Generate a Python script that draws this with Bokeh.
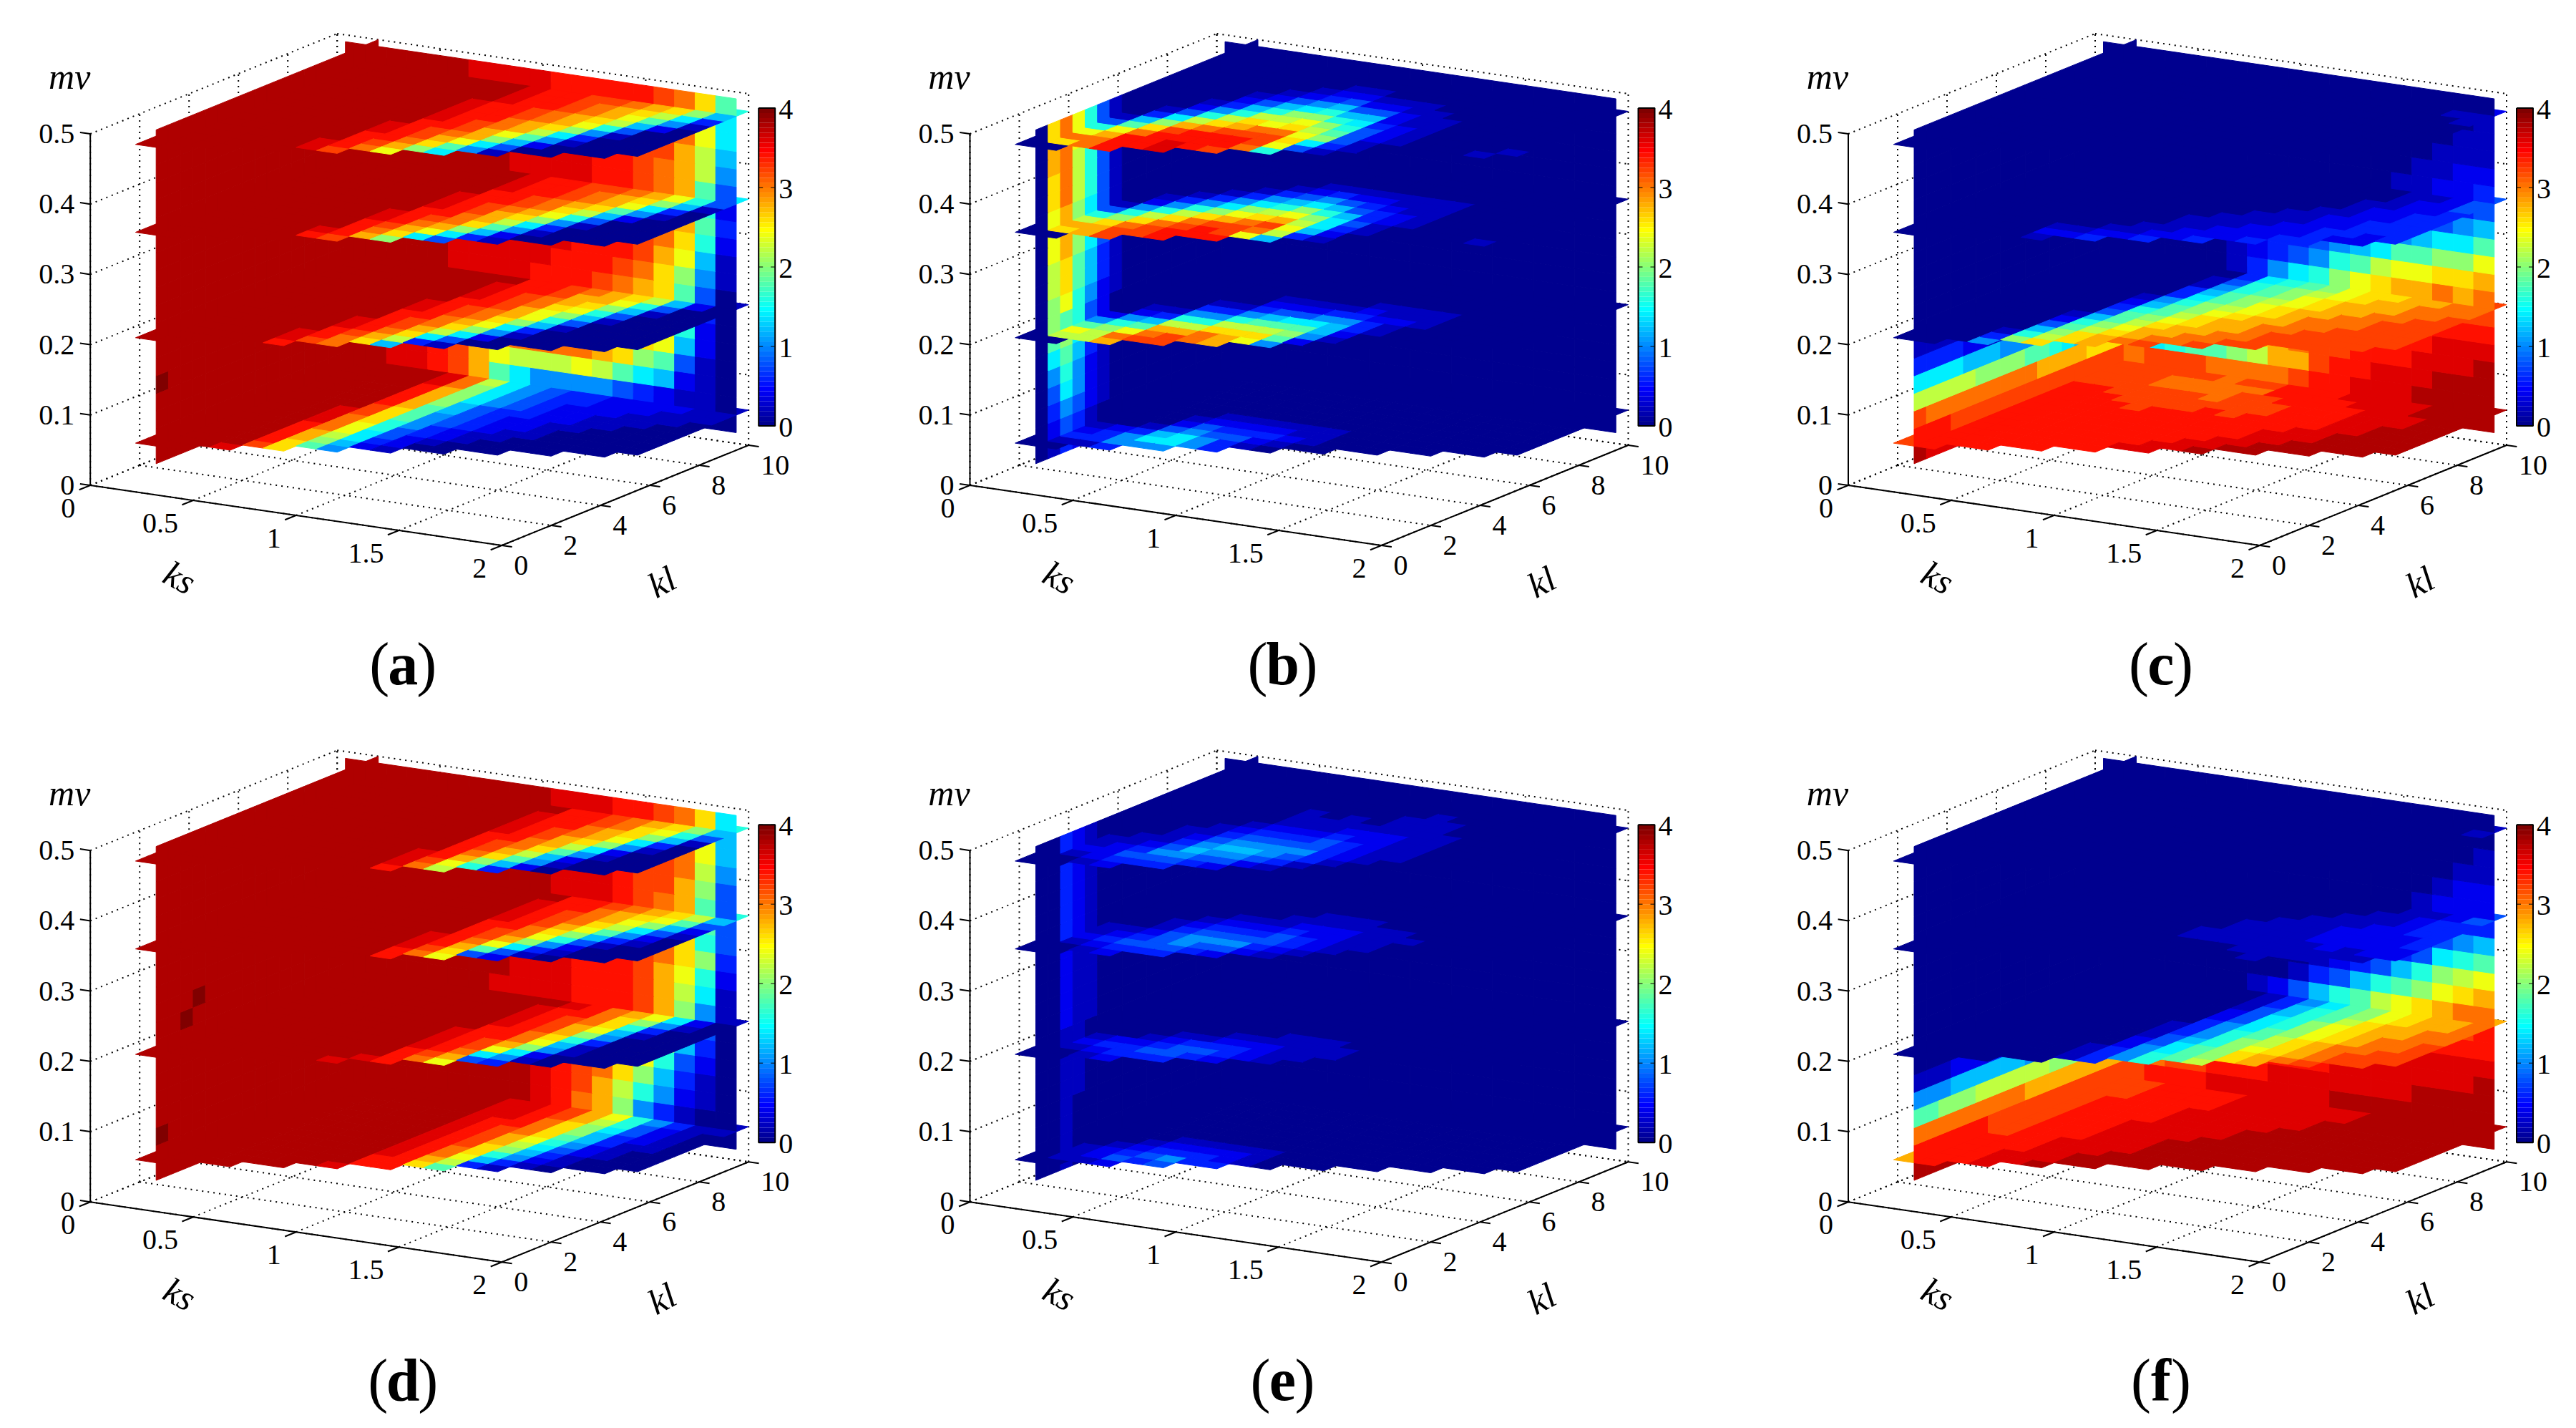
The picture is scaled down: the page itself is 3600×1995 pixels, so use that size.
from bokeh.plotting import figure
from bokeh.models import Range1d
from bokeh.core.properties import value
from bokeh.embed import file_html
from bokeh.resources import INLINE

# Axis ticks and labels
KS_TICKS = [0, 0.5, 1, 1.5, 2]
KS_LABELS = ["0", "0.5", "1", "1.5", "2"]
KL_TICKS = [0, 2, 4, 6, 8, 10]
KL_LABELS = ["0", "2", "4", "6", "8", "10"]
MV_TICKS = [0, 0.1, 0.2, 0.3, 0.4, 0.5]
MV_LABELS = ["0", "0.1", "0.2", "0.3", "0.4", "0.5"]
CB_TICKS = [0, 1, 2, 3, 4]

# Slice grid of the volume
KS_EDGES = [0.1 + 0.1 * n for n in range(20)]
KL_EDGES = [1 + 0.5 * n for n in range(19)]
MV_EDGES = [0.025 + 0.025 * n for n in range(20)]
LEFT_KS = 0.2
BACK_KL = 9.5
SLICE_MV = [0.05, 0.2, 0.35, 0.475]

# Cell values: one character per cell, value = digit(base 36) * 0.2; "." = no data.
# Slices: one row per ks cell, characters along kl. Walls: first row is the top mv row.
DARK = "jjjjjjjjjjjjjjjjjj"

A_SLICE_475 = [DARK, DARK, ".jjjjjjjjjjjjjjjjj", ".jjjjjjjjjjjjjjjjj", "..jjjjjjjjjjjjjjjj", "..jjjjjjjjjjjjjjjj",
    "...iijjjjjjjjjjjjj", "...ghhhiijjjjjjjjj", "....fghhhhiiiijjjj", "....cefgghhhhhiiii", ".....adefgghhhhhhh",
    ".....79ceeffgghhhh", "......57aceeffgggh", "......1469bdeeffgg", ".......0257acdeeff", ".......001358bcdee",
    "........0001469bde", "........00000257ac", ".........000001368"]
A_SLICE_35 = [DARK, DARK, ".jjjjjjjjjjjjjjjjj", ".jjjjjjjjjjjjjjjjj", "..jjjjjjjjjjjjjjjj", "..jjjjjjjjjjjjjjjj",
    "...hijjjjjjjjjjjjj", "...ghhhiijjjjjjjjj", "....efghhhiiijjjjj", "....adefghhhhhiiij", ".....7ceffgghhhhhi",
    ".....47adeefgghhhh", "......369bdeffgggh", "......1257acdeffgg", ".......01358bdeeff", ".......0001469cdee",
    "........0000257acd", "........000001368b", ".........000000147"]
A_SLICE_20 = [DARK, DARK, ".jjjjjjjjjjjjjjjjj", ".jjjjjjjjjjjjjjjjj", "..jjjjjjjjjjjjjjjj", "..hiijjjjjjjjjjjjj",
    "...ghhiijjjjjjjjjj", "...ffghhhhiijjjjjj", "....defgghhhhiiijj", "....6bdeffgghhhhhi", ".....37bdeffggghhh",
    ".....147acdeeffggg", "......0257accdeeff", "......001368acdeef", ".......0001468acde", ".......000001468bc",
    "........0000001469", "........0000000025", ".........000000001"]
A_SLICE_05 = [DARK, DARK, ".jjjjjjjjjjjjjjjjj", ".ijjjjjjjjjjjjjjjj", "..ghhhhiiijjjjjjjj", "..ddeefffgghhhhiii",
    "...9abccdddeeeefff", "...567788999aaaabb", "....23445556677777", "....12233444455555", ".....0122333344444",
    ".....0011222333333", "......001122222333", "......000111222222", ".......00001112222", ".......00000111222",
    "........0000011122", "........0000001111", ".........000000111"]
A_LEFT = [DARK, DARK, DARK, DARK, DARK, DARK, DARK, DARK, DARK, DARK, DARK, DARK, DARK, DARK,
    "kjjjjjjjjjjjjjjjjj", DARK, DARK, DARK, DARK]
A_BACK = ["jjjjjjiiiihhhhhgfd9", "jjjjjjjiiiiihhhgfc7", "jjjjjjjiiiiihhhgfc7", "jjjjjjjjiiiihhggeb6", "jjjjjjjjiiiihhgfeb5",
    "jjjjjjjjiiiihhgfe94", "jjjjjjjjiiiihhgfe82", "jjjjjjjjiiiihhgfe93", "jjjjjjjiiiiihhgfd82", "jjjjjjiiiiihhhgec61",
    "jjjjjiiiiihhhgfda51", "jjjjjiiiihhhgfed940", "jjjjiiiihhhhfeec830", "jjjjiiihhhhgfedc820", "jjjiiihhhhggfedc620",
    "jjiihgfeffffeda9410", "jjiihgecbbbcb976210", "jjiihge975555432110", "jjiihge754433211000"]

B_SLICE_475 = ["00112221", "0dfc841", ".ffec9631", ".hhhfda7421", "..hhhgeb85321", "..iihhfdb86421", "...hhhgedb86421",
    "...ghhgfcba75321", "....fggfdca86421", "....8cdcba86421", ".....47a9876421", ".....1344432211", "......11222111",
    "......0011111", ".......", ".......", "........", "........1", ".........1"]
B_SLICE_35 = ["00011111", "0deb841", ".eeda8521", ".ggfdb8531", "..ggfdb8531", "..hhgfda7531", "...hhgeca7531",
    "...hggfdb86421", "....cfgeca75310", "....6bcba86421", ".....367764321", ".....123433211", "......01122111",
    "......00011111", ".......", ".......", "........", "........1", "........."]
B_SLICE_20 = ["000111", "0bc952", ".bba8521", ".efc9631", "..gfeb8531", "..ggeb8531", "...ffdb85321", "...eedb96421",
    "....cdb97421", "....59a97531", ".....25665321", ".....01233211", "......0011211", "......0000111", ".......",
    ".......", "........", "........", "........."]
B_SLICE_05 = ["", "01321", ".1332", ".35531", "..576421", "..5775421", "...554321", "...334321", "....12321",
    "....01211", ".....0111", ".....", "......", "......", ".......", ".......", "........", "........", "........."]
B_LEFT = ["0dfc841", "0efc841", "0efb841", "0dfb841", "0dfb841", "0cea741", "0cea741", "0cea741", "0bd9631", "0bd9631",
    "0ac8521", "0a98420", "09a7421", "079631", "058521", "047521", "035421", "02431", "01321"]
B_BACK = ["", "", "", "", "", "", "", "", "", "", "", "", "", "", "", "", "", "", ""]

C_SLICE_475 = ["", "", ".", ".", "..", "..", "...", "...", "....", "....", ".....", ".....", "......", "......",
    ".......", ".......", "........0000000001", "........0000000011", ".........000000112"]
C_SLICE_35 = ["", "", ".", ".", "..", "..12100", "...2100", "...32100", "....21100", "....3211100", ".....2211100",
    ".....3221110", "......22211100", "......32221110", ".......3222211100", ".......33322221110", "........2333222211",
    "........2233332222", ".........333333444"]
C_SLICE_20 = ["", "", ".", ".531", "..a86421", "..dba9864321", "...ddba998653311", "...eedcba998765432",
    "....feedcbaa998875", "....gfeeddcbaa9988", ".....ffeeedccbaa99", ".....gffeeeddccbaa", "......gfffeeeddccb",
    "......gggfffeeeddc", ".......gggfffeeedd", ".......ggggfffeeee", "........gggggfffee", "........ggggggfffe",
    ".........ggggggffg"]
C_SLICE_05 = ["ggghhhhhhhhhhhhggg", "hhhhhhhhhhhhhggggg", ".hhhhhhhhhhhhggggg", ".hhhhhhhhhhhgggggg", "..hhhhhhhhhgggffgg",
    "..hhhhhhhhggggffgg", "...hhhhhhhhgggfffg", "...hhhhhhhhggfffgh", "....ihhhhhhhgggfgh", "....iihhhhhgggghhh",
    ".....iihhhhhgghhhh", ".....jiihhhhhhhhhh", "......jiiihhhhhhii", "......jjiiihhhhiii", ".......jjiiiiiiiii",
    ".......jjjjiiiiiij", "........jjjjjiijjj", "........jjjjjjjjjj", ".........jjjjjjjjj"]
C_LEFT = ["", "", "", "", "", "", "", "", "", "", "", "", "1111", "3333221111", "777766655544332211", "bbbbbaaaa998765555",
    "gfffffffffeeeedddd", "hhhggggggggggggggg", "jiiiiiiiihhhhhhggg"]
C_BACK = ["", "0000000000000000001", "0000000000000000011", "0000000000000000111", "0000000000000001122",
    "0000000000000011223", "0000000000000112234", "0000000000000123456", "0000000011123456779", "0000001233456799aac",
    "0000001234589bccdde", "00000013578acdeefef", "0000135789acdefffgg", "00135789abcdefgghhh", "0135789acdefgghhiii",
    "13579abdefgghhhiiij", "567899abeeghhiiijjj", "ffgggffffghhiiijjjj", "gggggggggghhiiijjjj"]

D_SLICE_475 = [DARK, DARK, ".jjjjjjjjjjjjjjjjj", ".jjjjjjjjjjjjjjjjj", "..jjjjjjjjjjjjjjjj", "..jjjjjjjjjjjjjjjj",
    "...jjjjjjjjjjjjjjj", "...jjjjjjjjjjjjjjj", "....jjjjjjjjjjjjjj", "....hiiijjjjjjjjjj", ".....fghhhhhiiiijj",
    ".....bcefgghhhhhhi", "......8adeffgghhhh", "......369bdeeffggh", ".......2569bdeeffg", ".......01257acddef",
    "........001257acde", "........00001368ac", ".........000001468"]
D_SLICE_35 = [DARK, DARK, ".jjjjjjjjjjjjjjjjj", ".jjjjjjjjjjjjjjjjj", "..jjjjjjjjjjjjjjjj", "..jjjjjjjjjjjjjjjj",
    "...jjjjjjjjjjjjjjj", "...jjjjjjjjjjjjjjj", "....jjjjjjjjjjjjjj", "....hhiiijjjjjjjjj", ".....fghhhhhiiiijj",
    ".....cdefgghhhhhhi", "......49ceffggghhh", "......247acdefffgg", ".......1358acdeeff", ".......012469bcdee",
    "........001357acde", "........00012469bc", ".........000012468"]
D_SLICE_20 = [DARK, DARK, ".jjjjjjjjjjjjjjjjj", ".jjjjjjjjjjjjjjjjj", "..jjjjjjjjjjjjjjjj", "..jjjjjjjjjjjjjjjj",
    "...jjjjjjjjjjjjjjj", "...ijjjjjjjjjjjjjj", "....ijjjjjjjjjjjjj", "....hhhiiiijjjjjjj", ".....fghhhhhiiiijj",
    ".....cefgghhhhhhii", "......47ceffggghhh", "......357acdeefffg", ".......12568acddee", ".......00113568acd",
    "........0000013579", "........0000000124", ".........000000001"]
D_SLICE_05 = [DARK, DARK, ".jjjjjjjjjjjjjjjjj", ".jjjjjjjjjjjjjjjjj", "..jjjjjjjjjjjjjjjj", "..jjjjjjjjjjjjjjjj",
    "...jjjjjjjjjjjjjjj", "...ijjjjjjjjjjjjjj", "....hhiiiiiiiiiiii", "....hhhhhhhhhhiiii", ".....deffgggghhhhh",
    ".....9bcddeefffggg", "......368abcdddeee", "......1356789aabcc", ".......12345667889", ".......01122334455",
    "........0011122233", "........0000111112", ".........000000011"]
D_LEFT = [DARK, DARK, DARK, DARK, DARK, DARK, DARK, DARK, DARK, "jjjkjjjjjjjjjjjjjj", "jjkjjjjjjjjjjjjjjj", DARK, DARK,
    DARK, DARK, DARK, "kjjjjjjjjjjjjjjjjj", DARK, DARK]
D_BACK = ["jjjjjjjjjjiiihhgfd7", "jjjjjjjjjjiiihhgfc6", "jjjjjjjjjjiiihhgfc6", "jjjjjjjjjjiiihggfb5", "jjjjjjjjjjiiihggea4",
    "jjjjjjjjjjiiihgfe94", "jjjjjjjjjjiiihgfe94", "jjjjjjjjjiiihhgfd84", "jjjjjjjjjiiihhgfda3", "jjjjjjjjiiihhhgec82",
    "jjjjjjjjiiihhhgeb71", "jjjjjjjiiiihhhgea51", "jjjjjjjiiiihhgfd940", "jjjjjjjiiiihhgfb630", "jjjjjjjiiihgfec8420",
    "jjjjjjjjjihgfda6310", "jjjjjjjjjihgeb85210", "jjjjjjjjjihfea53100", "jjjjjjjjjihfe742000"]

E_SLICE_475 = ["0011", "001211", ".1222110", ".23432111", "..3454321100", "..345654321", "...34565432111",
    "...2456543211", "....2455432111", "....134544321", ".....1333322111", ".....01222221111",
    "......011111111", "......0011111", ".......", ".......", "........", "........", "........."]
E_SLICE_35 = ["001", "001211", ".12321", ".2343211", "..3444321", "..34554321", "...3454321", "...24543211",
    "....23443211", "....12332211", ".....1222211", ".....011111", "......01111", "......0001", ".......",
    ".......", "........", "........", "........."]
E_SLICE_20 = ["", "00121", ".1232", ".23321", "..34321", "..34431", "...34321", "...23321", "....22211",
    "....11111", ".....1111", ".....011", "......", "......", ".......", ".......", "........", "........", "........."]
E_SLICE_05 = ["", "0111", ".1221", ".24321", "..34321", "..45321", "...3321", "...3221", "....111", "....", ".....",
    ".....", "......", "......", ".......", ".......", "........", "........", "........."]
E_LEFT = ["00321", "00321", "00321", "00321", "00321", "00321", "00211", "00211", "00211", "00211", "00211", "0011",
    "0011", "0011", "0011", "001", "001", "001", "001"]
E_BACK = ["", "", "", "", "", "", "", "", "", "", "", "", "", "", "", "", "", "", ""]

F_SLICE_475 = ["", "", ".", ".", "..", "..", "...", "...", "....", "....", ".....", ".....", "......", "......",
    ".......", ".......", "........", "........0000000001", ".........000000011"]
F_SLICE_35 = ["", "", ".", ".", "..", "..", "...", "...", "....", "....000011", ".....0001111", ".....00011111",
    "......011111110", "......1111111110", ".......11122211100", ".......11222221111", "........1122222211",
    "........1222233322", ".........223333344"]
F_SLICE_20 = ["", "", ".", ".", "..", "..0", "...111", "...33322111", "....55544333221110", "....88776555444333",
    ".....9998887776655", ".....baaaa99888877", "......ddcbbaaa9998", "......eedddcccbaaa", ".......feeeddddccc",
    ".......gfffeeeeddd", "........ggfffeeeed", "........gggffffeee", ".........ggggffffe"]
F_SLICE_05 = ["eeffffffgggggggggg", "hhhhhhgggggggggggf", ".hhhhhhhhhhhhhgggg", ".iiihhhhhhhhhhhhhg", "..iiiiihhhhhhhhhhh",
    "..jiiiiiiiihhhhhhh", "...jjiiiiiiiiihhhh", "...jjjiiiiiiiiiiih", "....jjjjjiiiiiiiii", "....jjjjjjiiiiiiii",
    ".....jjjjjjjiiiiii", ".....jjjjjjjjiiiii", "......jjjjjjjjjiii", "......jjjjjjjjjjji", ".......jjjjjjjjjjj",
    ".......jjjjjjjjjjj", "........jjjjjjjjjj", "........jjjjjjjjjj", ".........jjjjjjjjj"]
F_LEFT = ["", "", "", "", "", "", "", "", "", "", "", "", "00001111", "1112223333222", "555666666555",
    "99aaabbbbbbaaa9999", "fffffffffeeeeeeeee", "hhhhhhgggggggggggg", "jjjjiiiiiihhhhhhhh"]
F_BACK = ["", "", "0000000000000000001", "0000000000000000011", "0000000000000000122", "0000000000000001222",
    "0000000000000011233", "0000000000000112456", "0000000000011234789", "0000000000123468abc", "000000000134689acde",
    "000000012468 9bcdeff".replace(" ", ""), "00000013568abdefggh", "00013579acdefgghhhh", "1358acefgghhhhiiiii",
    "abcdefgghhhiiiiiiij", "eefgghhhiiiiiiijjjj", "gghhhiiiiiijjjjjjjj", "hhhiiiiijjjjjjjjjjj"]

PANELS = [
    ("a", 125.7, 677.5, 982.0, [A_SLICE_05, A_SLICE_20, A_SLICE_35, A_SLICE_475], A_LEFT, A_BACK, 32),
    ("b", 1355.0, 677.5, 982.0, [B_SLICE_05, B_SLICE_20, B_SLICE_35, B_SLICE_475], B_LEFT, B_BACK, 36),
    ("c", 2582.5, 677.5, 982.0, [C_SLICE_05, C_SLICE_20, C_SLICE_35, C_SLICE_475], C_LEFT, C_BACK, 28),
    ("d", 125.7, 1678.7, 982.0, [D_SLICE_05, D_SLICE_20, D_SLICE_35, D_SLICE_475], D_LEFT, D_BACK, 36),
    ("e", 1355.0, 1678.7, 982.0, [E_SLICE_05, E_SLICE_20, E_SLICE_35, E_SLICE_475], E_LEFT, E_BACK, 28),
    ("f", 2582.5, 1678.7, 982.0, [F_SLICE_05, F_SLICE_20, F_SLICE_35, F_SLICE_475], F_LEFT, F_BACK, 22),
]


def jet(v):
    k = min(63, max(0, int(v / 4 * 64)))
    t = (k + 1) / 64
    c = [max(0.0, min(1.0, 1.5 - abs(4 * t - q))) for q in (3, 2, 1)]
    return "#%02x%02x%02x" % tuple(int(round(255 * u)) for u in c)


def digit(row, n):
    ch = row[n] if n < len(row) else "0"
    return None if ch == "." else int(ch, 36) * 0.2


p = figure(width=3584, height=1979, output_backend="svg", toolbar_location=None,
           x_range=Range1d(0, 3584), y_range=Range1d(1979, 0), min_border=0)
p.axis.visible = False
p.grid.visible = False
p.outline_line_color = None

SERIF = value("Liberation Serif")

for name, ox, oy, vs, slices, left, back, letter_w in PANELS:
    def px(ks, kl):
        return ox + 287.5 * ks + 34.5 * kl

    def py(ks, kl, mv):
        return oy + 42 * ks - 14 * kl - vs * mv

    def seg(a, b):
        return [px(a[0], a[1]), px(b[0], b[1])], [py(*a), py(*b)]

    # dotted box grid
    gx, gy = [], []
    lines = []
    for k in KS_TICKS:
        lines.append(((k, 0, 0), (k, 10, 0)))
        lines.append(((k, 10, 0), (k, 10, 0.5)))
    for k in KL_TICKS:
        lines.append(((0, k, 0), (2, k, 0)))
        lines.append(((0, k, 0), (0, k, 0.5)))
    for m in MV_TICKS:
        lines.append(((0, 0, m), (0, 10, m)))
        lines.append(((0, 10, m), (2, 10, m)))
    for a, b in lines:
        sx, sy = seg(a, b)
        gx.append(sx)
        gy.append(sy)
    p.multi_line(gx, gy, line_color="black", line_width=2, line_dash="2 6")

    # solid axes and tick marks
    ax, ay = [], []
    lines = [((0, 0, 0), (2, 0, 0)), ((2, 0, 0), (2, 10, 0)), ((0, 0, 0), (0, 0, 0.5))]
    for k in KS_TICKS:
        lines.append(((k, 0, 0), (k, -0.45, 0)))
    for k in KL_TICKS:
        lines.append(((2, k, 0), (2.05, k, 0)))
    for m in MV_TICKS:
        lines.append(((0, 0, m), (-0.05, 0, m)))
    for a, b in lines:
        sx, sy = seg(a, b)
        ax.append(sx)
        ay.append(sy)
    p.multi_line(ax, ay, line_color="black", line_width=2)

    def quad(c):
        return [px(u[0], u[1]) for u in c], [py(*u) for u in c]

    def slice_cells(mv, rows, behind):
        xs, ys, cs = [], [], []
        for i in range(19):
            for j in range(18):
                v = digit(rows[i], j)
                if v is None or (i == 0 or j == 17) != behind:
                    continue
                a, b = KS_EDGES[i], KS_EDGES[i + 1]
                c, d = KL_EDGES[j], KL_EDGES[j + 1]
                sx, sy = quad([(a, c, mv), (b, c, mv), (b, d, mv), (a, d, mv)])
                xs.append(sx); ys.append(sy); cs.append(jet(v))
        return xs, ys, cs

    def back_cells(columns):
        xs, ys, cs = [], [], []
        for r in range(19):
            row = back[18 - r]
            for i in columns:
                v = digit(row, i)
                a, b = KS_EDGES[i], KS_EDGES[i + 1]
                c, d = MV_EDGES[r], MV_EDGES[r + 1]
                sx, sy = quad([(a, BACK_KL, c), (b, BACK_KL, c), (b, BACK_KL, d), (a, BACK_KL, d)])
                xs.append(sx); ys.append(sy); cs.append(jet(v))
        return xs, ys, cs

    def left_cells():
        xs, ys, cs = [], [], []
        for r in range(19):
            row = left[18 - r]
            for j in range(18):
                v = digit(row, j)
                a, b = KL_EDGES[j], KL_EDGES[j + 1]
                c, d = MV_EDGES[r], MV_EDGES[r + 1]
                sx, sy = quad([(LEFT_KS, a, c), (LEFT_KS, b, c), (LEFT_KS, b, d), (LEFT_KS, a, d)])
                xs.append(sx); ys.append(sy); cs.append(jet(v))
        return xs, ys, cs

    layers = []
    for mv, rows in zip(SLICE_MV, slices):
        layers.append(slice_cells(mv, rows, True))
    layers.append(back_cells([0]))
    layers.append(left_cells())
    layers.append(back_cells(list(range(1, 19))))
    for mv, rows in zip(SLICE_MV, slices):
        layers.append(slice_cells(mv, rows, False))
    for xs, ys, cs in layers:
        if xs:
            p.patches(xs, ys, fill_color=cs, line_color=cs, line_width=1)

    # tick labels
    p.text([px(k, 0) - 21 for k in KS_TICKS], [py(k, 0, 0) + 32 for k in KS_TICKS], text=KS_LABELS,
           text_font=SERIF, text_font_size="40px", text_align="right", text_baseline="middle", text_color="black")
    p.text([px(2, k) + 17 for k in KL_TICKS], [py(2, k, 0) + 28 for k in KL_TICKS], text=KL_LABELS,
           text_font=SERIF, text_font_size="40px", text_align="left", text_baseline="middle", text_color="black")
    p.text([ox - 22 for m in MV_TICKS], [py(0, 0, m) for m in MV_TICKS], text=MV_LABELS,
           text_font=SERIF, text_font_size="40px", text_align="right", text_baseline="middle", text_color="black")

    # axis titles
    p.text([ox - 29], [oy - 571], text=["mv"], text_font=SERIF, text_font_style="italic", text_font_size="50px",
           text_align="center", text_baseline="middle", text_color="black")
    p.text([ox + 125], [oy + 129], text=["ks"], text_font=SERIF, text_font_style="italic", text_font_size="50px",
           text_align="center", text_baseline="middle", text_color="black", angle=-0.49)
    p.text([ox + 799], [oy + 135], text=["kl"], text_font=SERIF, text_font_style="italic", text_font_size="50px",
           text_align="center", text_baseline="middle", text_color="black", angle=0.49)

    # colour bar
    cb_l, cb_r = ox + 934, ox + 957
    cb_t, cb_b = oy - 527, oy - 83
    h = (cb_b - cb_t) / 64
    p.quad(left=cb_l, right=cb_r, top=[cb_b - (n + 1) * h for n in range(64)], bottom=[cb_b - n * h for n in range(64)],
           fill_color=[jet((n + 0.5) / 16) for n in range(64)], line_color=None)
    p.multi_line([[cb_l, cb_r, cb_r, cb_l, cb_l]], [[cb_t, cb_t, cb_b, cb_b, cb_t]], line_color="black", line_width=2)
    tx, ty = [], []
    for v in CB_TICKS:
        y = cb_b - (cb_b - cb_t) * v / 4
        tx += [[cb_l, cb_l + 6], [cb_r - 6, cb_r]]
        ty += [[y, y], [y, y]]
    p.multi_line(tx, ty, line_color="black", line_width=1)
    p.text([cb_r + 5 for v in CB_TICKS], [cb_b - (cb_b - cb_t) * v / 4 + 2 for v in CB_TICKS], text=[str(v) for v in CB_TICKS],
           text_font=SERIF, text_font_size="40px", text_align="left", text_baseline="middle", text_color="black")

    # panel caption
    cx = ox + 437
    cy = oy + 249
    gap = letter_w / 2 + 17
    p.text([cx - gap, cx + gap], [cy, cy], text=["(", ")"], text_font=SERIF, text_font_size="84px",
           text_align="center", text_baseline="middle", text_color="black")
    p.text([cx], [cy], text=[name], text_font=SERIF, text_font_style="bold", text_font_size="84px",
           text_align="center", text_baseline="middle", text_color="black")

open("out.html", "w").write(file_html(p, INLINE))
